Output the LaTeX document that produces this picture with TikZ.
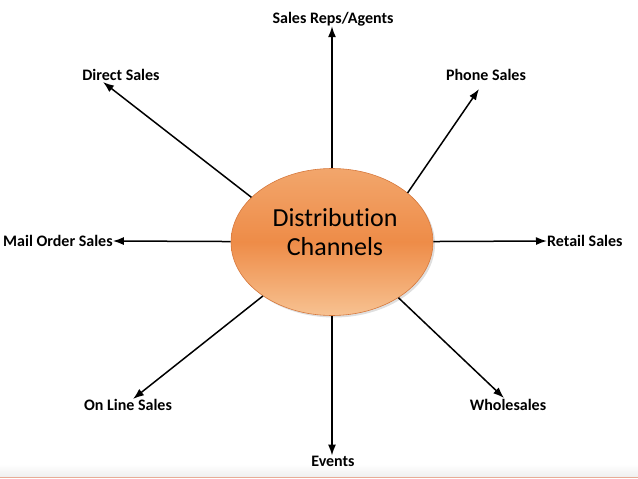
\documentclass[tikz,border=0pt]{standalone}
\usepackage{fontspec}
\setmainfont[Ligatures=NoCommon]{Carlito}
\usetikzlibrary{arrows.meta,shapes.geometric,shadows}
\definecolor{hubmid}{RGB}{238,140,72}
\definecolor{hubtop}{RGB}{242,166,108}
\definecolor{hubbot}{RGB}{247,194,146}
\definecolor{hubrim}{RGB}{214,120,60}
\definecolor{footline}{RGB}{232,172,150}
\begin{document}
\begin{tikzpicture}[x=1pt,y=-1pt,
  chan/.style={font=\fontsize{16}{18}\selectfont\bfseries,inner sep=0pt},
  arr/.style={line width=1.5pt,-{Latex[length=11pt,width=8pt]}}]
\useasboundingbox (0,0) rectangle (638,479);
% footer strip
\shade[top color=white,bottom color=black!6] (0,464) rectangle (638,476.5);
\draw[footline,line width=1.5pt] (0,477.5) -- (638,477.5);
% hub
\node[ellipse,minimum width=202pt,minimum height=147pt,draw=hubrim,line width=0.6pt,
  top color=hubtop,bottom color=hubbot,middle color=hubmid,
  drop shadow={opacity=0.25,shadow xshift=2pt,shadow yshift=-2pt}] (hub) at (332,242) {};
\node[align=center,font=\fontsize{26}{29}\selectfont] (hubtext) at (335,232) {Distribution\\Channels};
% channel labels
\node[chan] (reps) at (333,19) {Sales Reps/Agents};
\node[chan] (direct) at (121,75) {Direct Sales};
\node[chan] (phone) at (486,75) {Phone Sales};
\node[chan,anchor=west] (mail) at (3,241) {Mail Order Sales};
\node[chan,anchor=west] (retail) at (547,241) {Retail Sales};
\node[chan] (online) at (128,405) {On Line Sales};
\node[chan] (whole) at (508,405) {Wholesales};
\node[chan] (events) at (333,461) {Events};
% arrow tips
\coordinate (tdirect) at (103,82);
\coordinate (tphone) at (479,89);
\coordinate (tonline) at (133,399);
\coordinate (twhole) at (504,398);
% connectors
\draw[arr] (hub) -- (hub.north |- reps.south);
\draw[arr] (hub.151) -- (tdirect);
\draw[arr] (hub.33) -- (tphone);
\draw[arr] (hub) -- (mail.east);
\draw[arr] (hub) -- (retail.west);
\draw[arr] (hub.218) -- (tonline);
\draw[arr] (hub.320) -- (twhole);
\draw[arr] (hub) -- (hub.south |- events.north);
\end{tikzpicture}
\end{document}
